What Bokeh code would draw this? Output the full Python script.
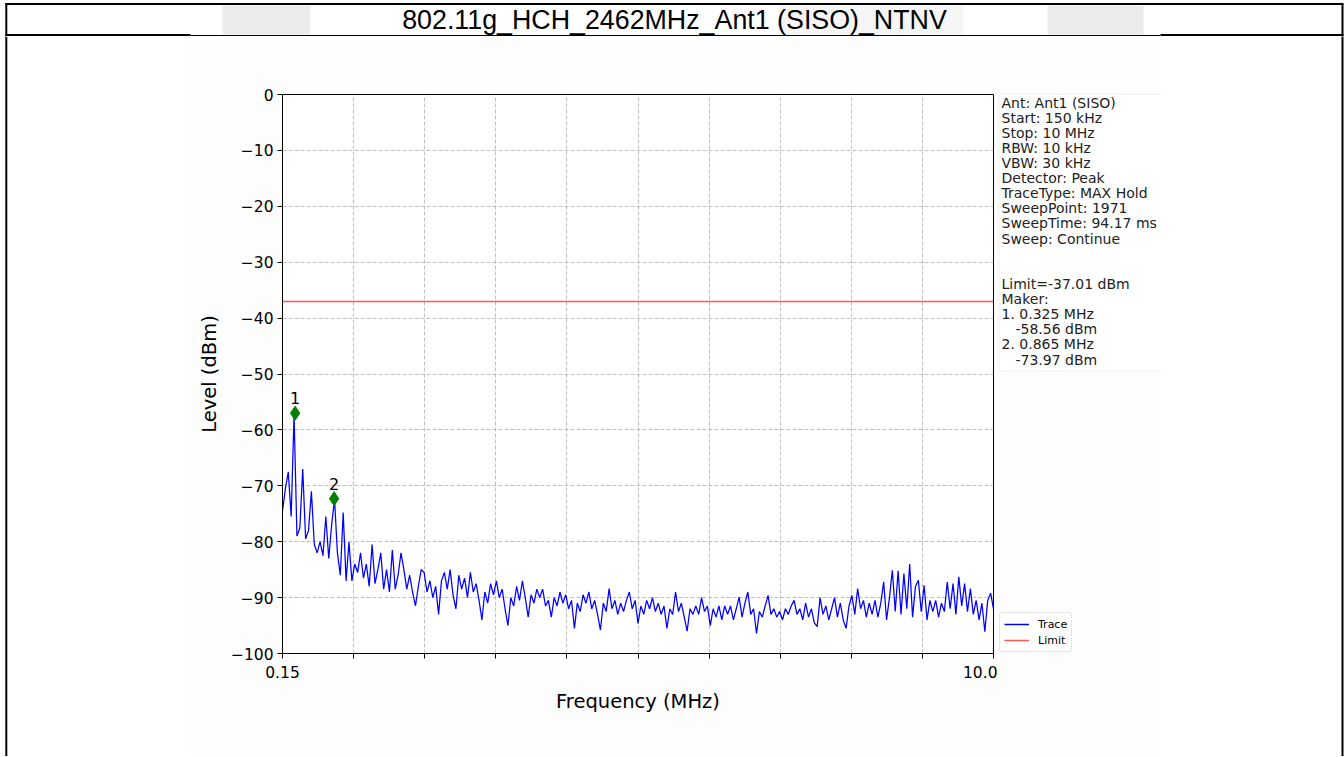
import numpy as np
from bokeh.plotting import figure
from bokeh.layouts import column, row
from bokeh.models import (Range1d, FixedTicker, BoxAnnotation, Label, Legend,
                          LegendItem, CustomJSTickFormatter)
from bokeh.core.properties import value
from bokeh.embed import file_html
from bokeh.resources import INLINE

# ---------------- data ----------------
title_text = "802.11g_HCH_2462MHz_Ant1 (SISO)_NTNV"
freq_start, freq_stop = 0.15, 10.0

level_db = [
    -74.5, -70.5, -67.5, -75.5, -57.2, -79.0, -77.5, -67.0, -79.5, -78.0,
    -71.0, -80.5, -82.0, -80.0, -82.5, -75.5, -83.0, -77.0, -72.4, -82.0,
    -86.0, -74.8, -87.0, -80.0, -87.0, -84.0, -85.5, -82.0, -86.5, -84.0,
    -88.0, -80.5, -87.5, -85.0, -82.0, -88.5, -85.0, -89.0, -81.5, -88.5,
    -86.0, -82.0, -85.0, -88.5, -86.0, -89.0, -91.5, -88.0, -85.0, -85.5,
    -89.0, -87.0, -90.0, -88.0, -93.0, -87.0, -85.5, -88.5, -85.0, -89.5,
    -92.0, -86.0, -88.5, -86.5, -90.0, -85.5, -89.0, -87.5, -90.5, -94.0,
    -89.0, -91.0, -87.5, -89.5, -87.0, -90.0, -88.5, -92.0, -95.0, -90.0,
    -91.5, -88.0, -90.5, -87.0, -90.0, -93.5, -89.5, -91.0, -88.5, -90.0,
    -88.5, -91.5, -90.5, -93.5, -90.0, -91.5, -89.0, -91.0, -89.5, -92.0,
    -90.5, -95.5, -91.0, -92.5, -89.5, -91.0, -89.0, -92.0, -90.5, -93.0,
    -95.8, -91.0, -92.5, -88.4, -92.0, -90.5, -93.0, -91.0, -92.5, -90.5,
    -89.0, -92.0, -90.5, -94.6, -91.5, -93.0, -90.5, -92.0, -90.0, -92.5,
    -91.0, -93.0, -91.5, -95.5, -92.0, -93.0, -89.0, -92.5, -91.0, -93.5,
    -96.0, -92.0, -93.0, -91.5, -93.0, -90.0, -92.5, -91.5, -95.0, -92.0,
    -93.5, -91.5, -94.0, -91.5, -93.0, -91.5, -94.0, -92.0, -89.9, -93.5,
    -91.0, -89.0, -93.0, -92.0, -96.4, -92.5, -93.5, -91.5, -89.6, -93.0,
    -92.0, -93.5, -92.5, -94.0, -92.0, -93.0, -91.5, -90.5, -93.0, -92.0,
    -94.0, -91.0, -93.5, -92.0, -94.5, -95.2, -90.0, -93.0, -91.5, -94.0,
    -92.0, -90.0, -93.5, -91.0, -94.0, -95.5, -91.5, -89.6, -93.0, -88.4,
    -92.0, -90.5, -93.5, -91.0, -93.0, -90.5, -93.5, -91.0, -87.2, -94.0,
    -90.0, -85.1, -92.5, -85.2, -93.0, -85.7, -92.0, -84.0, -93.5, -88.0,
    -86.9, -92.5, -87.8, -94.0, -90.5, -92.5, -90.5, -93.5, -91.0, -92.5,
    -87.2, -92.0, -87.5, -93.0, -86.3, -91.5, -87.5, -92.5, -88.4, -93.0,
    -90.5, -94.0, -91.0, -96.1, -90.5, -89.2, -92.0,
]
# linear sweep grid of the analyser
freq_mhz = np.linspace(freq_start, freq_stop, len(level_db))

limit_dbm = -37.01
marker_names = ["1", "2"]
marker_freq = [0.325, 0.865]
marker_level = [-58.56, -73.97]
marker_plot_level = [-57.0, -72.3]   # where the diamonds sit in the picture

y_ticks = [-100, -90, -80, -70, -60, -50, -40, -30, -20, -10, 0]
y_tick_labels = ["\u2212100", "\u221290", "\u221280", "\u221270", "\u221260", "\u221250",
                 "\u221240", "\u221230", "\u221220", "\u221210", "0"]
x_ticks = [float(v) for v in np.linspace(freq_start, freq_stop, 11)]
x_tick_labels = ["0.15", "", "", "", "", "", "", "", "", "", "10.0"]

legend_labels = ["Trace", "Limit"]
info_lines = [
    "Ant: Ant1 (SISO)", "Start: 150 kHz", "Stop: 10 MHz", "RBW: 10 kHz",
    "VBW: 30 kHz", "Detector: Peak", "TraceType: MAX Hold", "SweepPoint: 1971",
    "SweepTime: 94.17 ms", "Sweep: Continue", "", "",
    f"Limit={limit_dbm} dBm", "Maker:",
]
for n, f, l in zip(marker_names, marker_freq, marker_level):
    info_lines.append(f"{n}. {f} MHz")
    info_lines.append(f"\t{l} dBm")

TRACE_COLOR = "#0000ff"
LIMIT_COLOR = "#ff5555"
IMG_BG = "#fdfdfd"

# ---------------- layout sizes (page px) ----------------
PAGE_W = 1344
TOP_H = 36
BODY_H = 720
LEFT_W = 190
PL, PR, PT, PB = 282, 993, 94, 653            # plot frame in page px
MAIN_W = (PL - LEFT_W) + (PR - PL) + 4
RIGHT_W = PAGE_W - LEFT_W - MAIN_W
RIGHT_X0 = LEFT_W + MAIN_W


def blank(w, h, xr, yr, bg="white"):
    f = figure(width=w, height=h, output_backend="svg", toolbar_location=None,
               x_range=Range1d(*xr), y_range=Range1d(*yr),
               x_axis_location=None, y_axis_location=None,
               min_border=0, min_border_left=0, min_border_right=0,
               min_border_top=0, min_border_bottom=0, frame_align=False)
    f.grid.visible = False
    f.outline_line_color = None
    f.background_fill_color = bg
    f.border_fill_color = bg
    return f


# ---------------- title strip ----------------
top = blank(PAGE_W, TOP_H, (0, PAGE_W), (TOP_H, 0))
top.quad(left=[222, 778, 1047], right=[310, 963, 1143], top=[5, 5, 5], bottom=[34, 34, 34],
         fill_color=["#ebebeb", "#f5f5f5", "#ebebeb"], line_color=None)
top.segment(x0=[4.8, 5.8, 1342], y0=[3.6, 3, 3], x1=[1343, 5.8, 1342], y1=[3.6, 36, 36],
            line_color="black", line_width=2)
top.segment(x0=[4.8, 1160], y0=[34.6, 34.6], x1=[190, 1343], y1=[34.6, 34.6],
            line_color="black", line_width=2)
top.segment(x0=[190], y0=[35], x1=[1160], y1=[35], line_color="black", line_width=1)
top.text(x=[674], y=[19.5], text=[title_text], text_align="center", text_baseline="middle",
         text_font=value("Liberation Sans"), text_font_size="26.8px", text_color="black")

# ---------------- left strip ----------------
left = blank(LEFT_W, BODY_H, (0, LEFT_W), (TOP_H + BODY_H, TOP_H))
left.segment(x0=[5.8], y0=[TOP_H], x1=[5.8], y1=[TOP_H + BODY_H], line_color="black",
             line_width=2)

# ---------------- main plot ----------------
p = figure(width=MAIN_W, height=BODY_H, output_backend="svg", toolbar_location=None,
           x_range=Range1d(freq_start, freq_stop), y_range=Range1d(-100, 0),
           min_border_left=PL - LEFT_W, min_border_right=MAIN_W - (PR - LEFT_W),
           min_border_top=PT - TOP_H, min_border_bottom=TOP_H + BODY_H - PB,
           frame_align=False)
p.background_fill_color = "white"
p.border_fill_color = IMG_BG
p.outline_line_color = "black"
p.outline_line_width = 1


def fmt(pos, labs):
    return CustomJSTickFormatter(args=dict(tick_pos=pos, tick_lab=labs), code="""
        let best = 0, d = 1e9;
        for (let i = 0; i < tick_pos.length; i++) {
            const dd = Math.abs(tick_pos[i] - tick);
            if (dd < d) { d = dd; best = i; }
        }
        return tick_lab[best];
    """)


p.xaxis.ticker = FixedTicker(ticks=x_ticks)
p.yaxis.ticker = FixedTicker(ticks=y_ticks)
p.xaxis.formatter = fmt(x_ticks, x_tick_labels)
p.yaxis.formatter = fmt(y_ticks, y_tick_labels)

for ax in (p.xaxis, p.yaxis):
    ax.major_tick_in = 0
    ax.major_tick_out = 5
    ax.minor_tick_line_color = None
    ax.axis_line_color = "black"
    ax.major_tick_line_color = "black"
    ax.major_label_text_font = "DejaVu Sans"
    ax.major_label_text_font_size = "15.5px"
    ax.major_label_text_color = "black"
    ax.axis_label_text_font = "DejaVu Sans"
    ax.axis_label_text_font_size = "19.5px"
    ax.axis_label_text_font_style = "normal"
    ax.axis_label_text_color = "black"

p.xaxis.major_label_standoff = 7
p.yaxis.major_label_standoff = 4
p.xaxis.axis_label = "Frequency (MHz)"
p.yaxis.axis_label = "Level (dBm)"
p.xaxis.axis_label_standoff = 9
p.yaxis.axis_label_standoff = 7

for g in (p.xgrid, p.ygrid):
    g.grid_line_color = "#b0b0b0"
    g.grid_line_dash = "4 2"
    g.grid_line_width = 0.8
p.xgrid.ticker = FixedTicker(ticks=x_ticks)
p.ygrid.ticker = FixedTicker(ticks=y_ticks)

p.line(freq_mhz, level_db, line_color=TRACE_COLOR, line_width=1.25)
p.line([freq_start, freq_stop], [limit_dbm, limit_dbm], line_color=LIMIT_COLOR,
       line_width=1.5)

p.scatter(marker_freq, marker_plot_level, marker="diamond", size=14,
          fill_color="green", line_color="green")
p.text(x=marker_freq, y=marker_plot_level, text=marker_names, text_align="center",
       text_baseline="bottom", y_offset=-9, text_font=value("DejaVu Sans"),
       text_font_size="16px", text_color="black")

# ---------------- right strip: info box + legend ----------------
right = blank(RIGHT_W, BODY_H, (RIGHT_X0, PAGE_W), (TOP_H + BODY_H, TOP_H))
right.quad(left=[RIGHT_X0], right=[1160], top=[TOP_H], bottom=[TOP_H + BODY_H],
           fill_color=IMG_BG, line_color=None)
right.add_layout(BoxAnnotation(left=998.5, right=1175, top=93.5, bottom=370.5,
                               fill_color="white", fill_alpha=1, line_color="#cccccc",
                               line_width=1, border_radius=3))
right.add_layout(BoxAnnotation(left=1160.5, right=1200, top=88, bottom=376,
                               fill_color="white", fill_alpha=1, line_alpha=0))
for i, line in enumerate(info_lines):
    if not line:
        continue
    indent = 0
    if line.startswith("\t"):
        line = line[1:]
        indent = 14
    right.add_layout(Label(x=1001 + indent, y=102 + i * 15.12, text=line,
                           text_font="DejaVu Sans", text_font_size="14px",
                           text_align="left", text_baseline="middle",
                           text_color="#222222"))
right.segment(x0=[1342], y0=[TOP_H], x1=[1342], y1=[TOP_H + BODY_H], line_color="black",
              line_width=2, level="overlay")

# legend swatches (renderers kept off-canvas so only the legend shows them)
lt = right.line([RIGHT_X0 - 20, RIGHT_X0 - 10], [400, 400], line_color=TRACE_COLOR,
                line_width=1.5)
ll = right.line([RIGHT_X0 - 20, RIGHT_X0 - 10], [420, 420], line_color=LIMIT_COLOR,
                line_width=1.5)
legend = Legend(items=[LegendItem(label=legend_labels[0], renderers=[lt]),
                       LegendItem(label=legend_labels[1], renderers=[ll])],
                location=(999 - RIGHT_X0, TOP_H + BODY_H - 652), orientation="vertical",
                label_text_font="DejaVu Sans", label_text_font_size="11px",
                label_text_color="black",
                glyph_width=25, glyph_height=14, spacing=2, padding=4, margin=0,
                label_standoff=9, border_line_color="#cccccc", border_line_width=1,
                border_radius=3, background_fill_color="white", background_fill_alpha=1)
right.add_layout(legend)

layout = column(top, row(left, p, right, spacing=0), spacing=0)
open("out.html", "w").write(file_html(layout, INLINE))
